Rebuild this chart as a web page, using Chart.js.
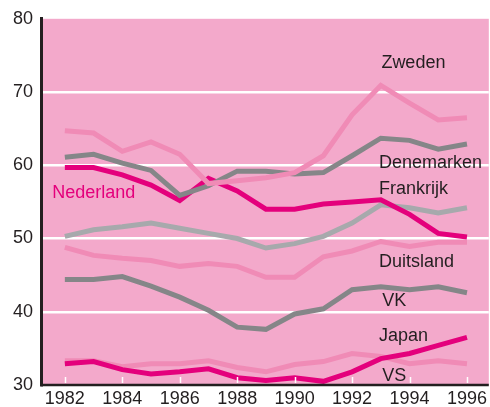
<!DOCTYPE html>
<html>
<head>
<meta charset="utf-8">
<script src="https://cdn.jsdelivr.net/npm/chart.js@4"></script>
<style>
  html, body { margin: 0; padding: 0; background: #ffffff; }
  #wrap { width: 490px; height: 407px; }
</style>
</head>
<body>
<div id="wrap"><canvas id="chart"></canvas></div>
<script>
// years on the x axis
const years = [1982, 1983, 1984, 1985, 1986, 1987, 1988, 1989, 1990, 1991, 1992, 1993, 1994, 1995, 1996];
const xTicks = [1982, 1984, 1986, 1988, 1990, 1992, 1994, 1996];
const yTicks = [30, 40, 50, 60, 70, 80];

// series values
const zweden     = [64.7, 64.4, 61.9, 63.2, 61.5, 57.5, 57.9, 58.3, 59.0, 61.3, 66.9, 70.9, 68.5, 66.2, 66.5];
const denemarken = [61.1, 61.5, 60.3, 59.3, 55.9, 57.2, 59.2, 59.2, 58.8, 59.0, 61.3, 63.7, 63.4, 62.2, 62.9];
const nederland  = [59.7, 59.7, 58.7, 57.3, 55.2, 58.2, 56.5, 54.0, 54.0, 54.7, 55.0, 55.3, 53.3, 50.7, 50.2];
const frankrijk  = [50.3, 51.2, 51.6, 52.1, 51.4, 50.7, 50.0, 48.7, 49.3, 50.3, 52.1, 54.6, 54.2, 53.5, 54.2];
const duitsland  = [48.8, 47.7, 47.3, 47.0, 46.2, 46.6, 46.2, 44.7, 44.7, 47.5, 48.3, 49.6, 48.9, 49.5, 49.5];
const vk         = [44.4, 44.4, 44.8, 43.5, 42.0, 40.2, 37.9, 37.6, 39.7, 40.4, 43.0, 43.4, 43.0, 43.4, 42.6];
const japan      = [32.9, 33.2, 32.1, 31.5, 31.8, 32.2, 31.0, 30.6, 31.0, 30.5, 31.8, 33.6, 34.3, 35.4, 36.5];
const vs         = [33.3, 33.3, 32.5, 32.9, 32.9, 33.3, 32.4, 31.8, 32.8, 33.2, 34.3, 33.9, 32.9, 33.3, 32.9];

const MAGENTA = '#e4007c';
const DARKGRAY = '#858688';
const LIGHTGRAY = '#a7a9ac';
const LIGHTPINK = '#f08bb6';
const INK = '#231f20';

function pts(values) {
    return values.map(function(v, i) { return { x: years[i], y: v }; });
}

function series(label, values, color) {
    return {
        label: label,
        data: pts(values),
        borderColor: color,
        borderWidth: 5,
        pointRadius: 0,
        tension: 0,
        fill: false,
        borderJoinStyle: 'miter',
        borderCapStyle: 'butt'
    };
}

// name labels next to the lines, placed in data units
const nameLabels = [
    { text: 'Zweden',     x: 1993.02, y: 73.34, color: INK },
    { text: 'Denemarken', x: 1992.94, y: 59.66, color: INK },
    { text: 'Frankrijk',  x: 1992.94, y: 56.05, color: INK },
    { text: 'Nederland',  x: 1981.56, y: 55.58, color: MAGENTA },
    { text: 'Duitsland',  x: 1992.94, y: 46.17, color: INK },
    { text: 'VK',         x: 1993.05, y: 40.73, color: INK },
    { text: 'Japan',      x: 1992.94, y: 35.98, color: INK },
    { text: 'VS',         x: 1993.05, y: 30.54, color: INK }
];

const backdrop = {
    id: 'backdrop',
    beforeDraw: function(chart) {
        const a = chart.chartArea;
        const c = chart.ctx;
        c.save();
        c.fillStyle = '#f3a9cb';
        c.fillRect(a.left, a.top, a.right - a.left, a.bottom - a.top);
        c.restore();
    },
    afterDatasetsDraw: function(chart) {
        const c = chart.ctx;
        const xs = chart.scales.x;
        const ys = chart.scales.y;
        const a = chart.chartArea;
        c.save();
        // small white ticks on the inside of the bottom axis
        c.strokeStyle = '#ffffff';
        c.lineWidth = 1.5;
        xTicks.forEach(function(v) {
            const px = Math.round(xs.getPixelForValue(v)) + 0.5;
            c.beginPath();
            c.moveTo(px, a.bottom - 2);
            c.lineTo(px, a.bottom - 8);
            c.stroke();
        });
        // bottom axis line
        c.strokeStyle = INK;
        c.lineWidth = 2.5;
        c.beginPath();
        c.moveTo(a.left, a.bottom);
        c.lineTo(a.right, a.bottom);
        c.stroke();
        // labels
        c.font = '18px "Liberation Sans", Arial, sans-serif';
        c.textAlign = 'left';
        c.textBaseline = 'alphabetic';
        nameLabels.forEach(function(l) {
            c.fillStyle = l.color;
            c.fillText(l.text, xs.getPixelForValue(l.x), ys.getPixelForValue(l.y));
        });
        c.restore();
    }
};

const ctx = document.getElementById('chart');
new Chart(ctx, {
    type: 'line',
    data: {
        datasets: [
            series('VS', vs, LIGHTPINK),
            series('Japan', japan, MAGENTA),
            series('VK', vk, DARKGRAY),
            series('Duitsland', duitsland, LIGHTPINK),
            series('Frankrijk', frankrijk, LIGHTGRAY),
            series('Nederland', nederland, MAGENTA),
            series('Denemarken', denemarken, DARKGRAY),
            series('Zweden', zweden, LIGHTPINK)
        ].map(function(d, i) { d.order = 8 - i; return d; })
    },
    options: {
        responsive: true,
        maintainAspectRatio: false,
        animation: false,
        layout: { padding: { top: 17, right: 0, left: 0, bottom: 0 } },
        plugins: {
            legend: { display: false },
            tooltip: { enabled: false }
        },
        scales: {
            x: {
                type: 'linear',
                min: 1981.17,
                max: 1996.76,
                afterBuildTicks: function(scale) {
                    scale.ticks = xTicks.map(function(v) { return { value: v }; });
                },
                afterFit: function(scale) { scale.height = 22; },
                grid: { display: false, drawTicks: false },
                border: { display: false },
                ticks: {
                    padding: 3,
                    autoSkip: false,
                    maxRotation: 0,
                    color: INK,
                    font: { family: '"Liberation Sans", Arial, sans-serif', size: 18 },
                    callback: function(v) { return String(v); }
                }
            },
            y: {
                min: 30,
                max: 80,
                afterBuildTicks: function(scale) {
                    scale.ticks = yTicks.map(function(v) { return { value: v }; });
                },
                afterFit: function(scale) { scale.width = 41; },
                grid: {
                    drawTicks: false,
                    lineWidth: 2.5,
                    color: function(c) {
                        const v = c.tick && c.tick.value;
                        return (v > 30 && v < 80) ? '#ffffff' : 'rgba(0,0,0,0)';
                    }
                },
                border: { display: true, color: INK, width: 3 },
                ticks: {
                    padding: 8,
                    color: INK,
                    font: { family: '"Liberation Sans", Arial, sans-serif', size: 18 }
                }
            }
        }
    },
    plugins: [backdrop]
});
</script>
</body>
</html>
